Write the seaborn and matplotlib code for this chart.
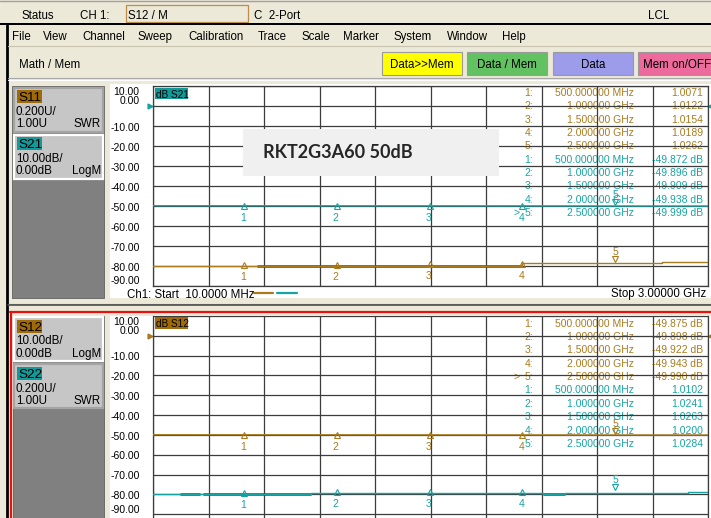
"""
Network analyzer screen capture - RKT2G3A60 50dB, two channel windows.
"""

import numpy as np
import matplotlib
matplotlib.use("Agg")
import matplotlib.pyplot as plt
import matplotlib.transforms as mtransforms
from matplotlib.patches import Rectangle
import seaborn as sns

W, H = 711, 518

# ---- values --------------------------------------------------------------
F_START, F_STOP = 0.01, 3.0          # GHz
MARKER_FREQ = [0.5, 1.0, 1.5, 2.0, 2.5]
MARKER_TEXT = ["500.000000 MHz", "1.000000 GHz", "1.500000 GHz",
               "2.000000 GHz", "2.500000 GHz"]

S11_MK = [1.0071, 1.0122, 1.0154, 1.0189, 1.0262]        # SWR
S21_MK = [-49.872, -49.896, -49.909, -49.938, -49.999]   # dB
S12_MK = [-49.875, -49.898, -49.922, -49.943, -49.990]   # dB
S22_MK = [1.0102, 1.0241, 1.0263, 1.0200, 1.0284]        # SWR

S21_F = [0.01, 0.5, 1.0, 1.5, 2.0, 2.5, 3.0]
S21_TRACE = [-49.86, -49.872, -49.896, -49.909, -49.938, -49.999, -50.01]
S12_F = [0.01, 0.5, 1.0, 1.5, 2.0, 2.5, 3.0]
S12_TRACE = [-49.86, -49.875, -49.898, -49.922, -49.943, -49.990, -50.0]

S11_F = [0.01, 0.57, 2.0, 2.75, 3.0]
S11_TRACE = [1.000, 1.003, 1.030, 1.040, 1.040]
S11_MEM_SEGS = [(0.57, 2.0)]
S11_MEM_LEVEL = 1.003

S22_F = [0.01, 0.86, 2.11, 2.23, 2.70, 2.89, 3.0]
S22_TRACE = [1.000, 1.010, 1.000, 1.010, 1.016, 1.024, 1.024]
S22_MEM_SEGS = [(0.155, 0.263), (0.28, 0.86), (2.11, 2.23)]
S22_MEM_LEVEL = 1.0

DB_TICKS = list(range(10, -100, -10))

MENU = ["File", "View", "Channel", "Sweep", "Calibration", "Trace", "Scale",
        "Marker", "System", "Window", "Help"]
MENU_X = [12, 43, 82, 138, 188, 258, 302, 343, 393, 447, 502]

# ---- colours ---------------------------------------------------------------
BEIGE = "#ECE9D8"
BROWN = "#A97B1E"
BROWN_FILL = "#A06A08"
BROWN_DARK = "#5E4A1E"
CYAN = "#18A3A3"
CYAN_FILL = "#129A9A"
CYAN_DARK = "#1E5C5C"
GRID = "#3C3C3C"

sns.set_theme(style="white")
plt.rcParams["font.family"] = ["Liberation Sans", "DejaVu Sans"]

fig = plt.figure(figsize=(W / 100, H / 100), dpi=100)
fig.patch.set_facecolor(BEIGE)


def px_axes(x0, y0, x1, y1, **kw):
    return fig.add_axes([x0 / W, 1 - y1 / H, (x1 - x0) / W, (y1 - y0) / H], **kw)


ui = px_axes(0, 0, W, H, label="ui")
ui.set_xlim(0, W)
ui.set_ylim(H, 0)
ui.set_axis_off()
ui.set_zorder(0)

front = px_axes(0, 0, W, H, label="front")
front.set_xlim(0, W)
front.set_ylim(H, 0)
front.set_axis_off()
front.set_zorder(5)


def rect(ax, x0, y0, x1, y1, **kw):
    ax.add_patch(Rectangle((x0, y0), x1 - x0, y1 - y0, **kw))


def txt(x, y, s, size=8.3, ha="left", color="black", ax=None, **kw):
    (ax or ui).text(x, y, s, fontsize=size, ha=ha, va="center_baseline",
                    color=color, **kw)


# ---- title / menu / toolbar ------------------------------------------------
ui.plot([0, W], [0.5, 0.5], color="#A0A0A0", lw=1)
txt(22, 14.5, "Status")
txt(80, 14.5, "CH 1:")
rect(ui, 126, 5, 248, 22, fc="none", ec="#C08A48", lw=0.9)
txt(128, 14.5, "S12 / M")
txt(254, 14.5, "C  2-Port")
txt(648, 14.5, "LCL")
rect(ui, 0, 22.5, W, 25, fc="black", ec="none")
ui.plot([7, 7], [25, H], color="black", lw=2)

for name, x in zip(MENU, MENU_X):
    txt(x, 35.5, name)
ui.plot([8, W], [46, 46], color="#C8C4B0", lw=0.8)
txt(19, 63.5, "Math / Mem")

buttons = [("Data>>Mem", 382, 462, "#FFFF00"), ("Data / Mem", 467, 547, "#62C262"),
           ("Data", 553, 633, "#9C9CEA"), ("Mem on/OFF", 638, 720, "#EC6A9C")]
for label, x0, x1, col in buttons:
    rect(ui, x0, 52, x1, 75, fc=col, ec="#9A9A9A", lw=0.8)
    if label == "Mem on/OFF":
        txt(643, 63.5, label)
    else:
        txt((x0 + x1) / 2, 63.5, label, ha="center")
ui.plot([8, W], [78, 78], color="#A8A8A8", lw=0.8)
ui.plot([8, W], [80, 80], color="white", lw=0.8)

# ---- window frames -----------------------------------------------------------
rect(ui, 110, 84, W + 1, 298, fc="white", ec="none")
rect(ui, 12, 86, 104, 298, fc="#808080", ec="#606060", lw=0.6)
ui.plot([8, W], [303.5, 303.5], color="#9A9A9A", lw=0.8)
ui.plot([8, W], [305.3, 305.3], color="#505050", lw=1.2)
ui.plot([10, W], [312, 312], color="#E81010", lw=1.6)
ui.plot([11, 11], [312, H], color="#E81010", lw=1.6)
rect(ui, 110, 316, W + 1, H, fc="white", ec="none")
rect(ui, 13, 316, 104, H, fc="#808080", ec="#606060", lw=0.6)


def trace_box(y0, name, fill, line1, line2, fmt, active):
    rect(ui, 14, y0, 103, y0 + 44, fc="#C6C6C6",
         ec="white" if active else "#A4A4A4", lw=1.6)
    rect(ui, 17, y0 + 2.5, 42, y0 + 15.5, fc=fill, ec="none")
    txt(18, y0 + 9.3, name, size=9.7)
    txt(16, y0 + 23, line1, size=8.4)
    txt(16, y0 + 35.3, line2, size=8.4)
    txt(101, y0 + 35.3, fmt, size=8.4, ha="right")


trace_box(87.5, "S11", BROWN_FILL, "0.200U/", "1.00U", "SWR", False)
trace_box(134.5, "S21", CYAN_FILL, "10.00dB/", "0.00dB", "LogM", True)
trace_box(317, "S12", BROWN_FILL, "10.00dB/", "0.00dB", "LogM", True)
trace_box(364, "S22", CYAN_FILL, "0.200U/", "1.00U", "SWR", False)


def db_to_swr(db):
    # SWR trace: 1.00U at the -80 dB line, 0.2U per 10 dB division
    return 1.0 + (db + 80.0) / 10.0 * 0.2


def marker_table(y0, series, active_row):
    i = 0
    for vals, col in series:
        for k in range(5):
            y = y0 + 13.35 * i
            txt(533, y, f"{k + 1}:", size=7.5, ha="right", color=col)
            txt(634, y, MARKER_TEXT[k], size=7.5, ha="right", color=col)
            txt(703, y, vals[k], size=7.5, ha="right", color=col)
            if i == active_row:
                txt(520, y, ">", size=7.5, ha="right", color=col)
            i += 1


def put_markers(ax, freqs, vals, color):
    below = mtransforms.offset_copy(ax.transData, fig=fig, x=-1, y=-12, units="dots")
    above_m = mtransforms.offset_copy(ax.transData, fig=fig, x=0, y=4, units="dots")
    above_t = mtransforms.offset_copy(ax.transData, fig=fig, x=0, y=11, units="dots")
    ax.plot(freqs[:4], vals[:4], ls="none", marker="^", ms=5, mfc="none",
            mec=color, mew=0.8, zorder=4)
    for i in range(4):
        ax.text(freqs[i], vals[i], str(i + 1), transform=below, ha="center",
                va="center", fontsize=7.5, color=color)
    ax.plot(freqs[4], vals[4], ls="none", marker="v", ms=5, mfc="none",
            mec=color, mew=0.8, transform=above_m, zorder=4)
    ax.text(freqs[4], vals[4], "5", transform=above_t, ha="center",
            va="center", fontsize=7.5, color=color)


def channel(y_top, y_bot, db_top, db_bot, db_f, db_tr, db_mk, db_col,
            swr_f, swr_tr, swr_mk, swr_col, mem_segs, mem_level, mem_col,
            tag, show_top):
    ax = px_axes(153, y_top, 708, y_bot, label=tag)
    ax.set_zorder(1)
    ax.patch.set_visible(False)
    sns.lineplot(x=db_f, y=db_tr, ax=ax, color=db_col, lw=1.0, zorder=3)
    ax.set_xlim(F_START, F_STOP)
    ax.set_ylim(db_bot, db_top)
    ax.set_xticks(np.linspace(F_START, F_STOP, 11))
    ax.set_yticks(DB_TICKS)
    ax.grid(True, color=GRID, lw=0.9)
    ax.set_axisbelow(True)
    ax.tick_params(length=0, labelbottom=False, labelleft=False)
    ax.set_xlabel("")
    ax.set_ylabel("")
    for sp in ax.spines.values():
        sp.set_color(GRID)
        sp.set_linewidth(0.9)
    ax.spines["top"].set_visible(show_top)
    ax.spines["bottom"].set_visible(show_top)
    put_markers(ax, MARKER_FREQ, db_mk, db_col)

    ytr = ax.get_yaxis_transform()
    for v in DB_TICKS:
        shift = {10: -3.2, 0: 2.3, -90: 2.3}.get(v, -0.8)
        ax.text(-0.024, v + shift, f"{v:.2f}", transform=ytr, ha="right",
                va="center", fontsize=7.5, color="black", clip_on=False)
    ax.plot([-0.005], [0], ls="none", marker=">", ms=3.5, color=db_col,
            transform=ytr, clip_on=False)
    ax.plot([1.004], [0], ls="none", marker="<", ms=3, color=db_col,
            transform=ytr, clip_on=False)

    tw = ax.twinx()
    tw.set_zorder(2)
    tw.patch.set_visible(False)
    for a, b in mem_segs:
        tw.hlines(mem_level, a, b, color=mem_col, lw=1.8, zorder=2)
    sns.lineplot(x=swr_f, y=swr_tr, ax=tw, color=swr_col, lw=1.0,
                 drawstyle="steps-post", zorder=3)
    tw.set_xlim(F_START, F_STOP)
    tw.set_ylim(db_to_swr(db_bot), db_to_swr(db_top))
    tw.set_axis_off()
    put_markers(tw, MARKER_FREQ, swr_mk, swr_col)
    return ax


# ---- upper window: S11 (SWR) + S21 (dB) --------------------------------------
channel(86, 286, 10, -90, S21_F, S21_TRACE, S21_MK, CYAN,
        S11_F, S11_TRACE, S11_MK, BROWN, S11_MEM_SEGS, S11_MEM_LEVEL, BROWN_DARK,
        "upper", True)
marker_table(92, [([f"{v:.4f}" for v in S11_MK], BROWN),
                  ([f"{v:.3f} dB" for v in S21_MK], CYAN)], active_row=9)
rect(ui, 155, 87.5, 188, 99, fc=CYAN_FILL, ec="none")
txt(156, 93.5, "dB S21", size=7.2)
txt(127, 293, "Ch1: Start  10.0000 MHz", size=8.3)
ui.plot([254, 273], [293, 293], color=BROWN, lw=1.6)
ui.plot([277, 297], [293, 293], color=CYAN, lw=1.6)
txt(706, 293, "Stop 3.00000 GHz", size=8.3, ha="right")

# ---- lower window: S12 (dB) + S22 (SWR) --------------------------------------
channel(316, 518, 9.15, -91.85, S12_F, S12_TRACE, S12_MK, BROWN,
        S22_F, S22_TRACE, S22_MK, CYAN, S22_MEM_SEGS, S22_MEM_LEVEL, CYAN_DARK,
        "lower", False)
marker_table(322.7, [([f"{v:.3f} dB" for v in S12_MK], BROWN),
                     ([f"{v:.4f}" for v in S22_MK], CYAN)], active_row=4)
rect(ui, 155, 317, 188, 329, fc=BROWN_FILL, ec="none")
txt(156, 323, "dB S12", size=7.2)

# ---- annotation box on top of the grid -----------------------------------------
rect(front, 243, 129, 499, 176, fc="#F0F0F0", ec="none")
front.text(263, 152, "RKT2G3A60 50dB", fontsize=13, fontweight="bold",
           family=["Lato", "DejaVu Sans"], va="center", ha="left")

fig.savefig("out.png", dpi=100)
plt.close(fig)
